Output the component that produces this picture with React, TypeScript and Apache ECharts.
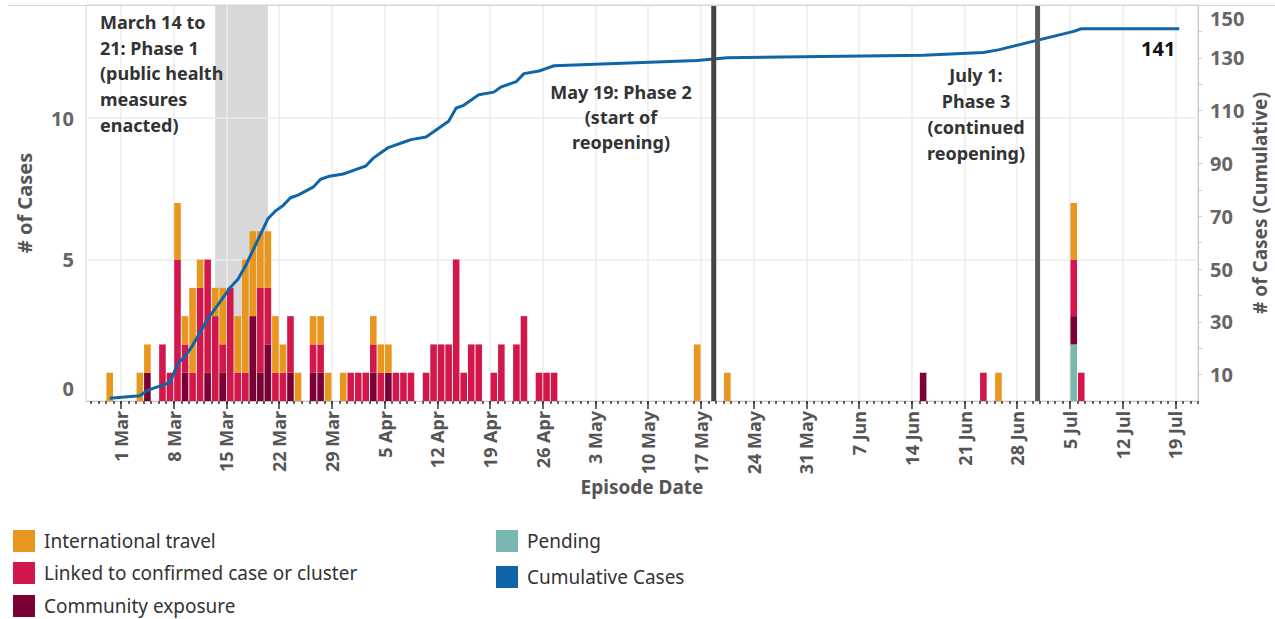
import React, { useEffect, useRef } from 'react';
import * as echarts from 'echarts';

// ---------- data ----------
const caseDates = [
  '2020-02-28', '2020-03-03', '2020-03-04', '2020-03-06', '2020-03-07', '2020-03-08', '2020-03-09', '2020-03-10',
  '2020-03-11', '2020-03-12', '2020-03-13', '2020-03-14', '2020-03-15', '2020-03-16', '2020-03-17', '2020-03-18',
  '2020-03-19', '2020-03-20', '2020-03-21', '2020-03-22', '2020-03-23', '2020-03-24', '2020-03-26', '2020-03-27',
  '2020-03-28', '2020-03-30', '2020-03-31', '2020-04-01', '2020-04-02', '2020-04-03', '2020-04-04', '2020-04-05',
  '2020-04-06', '2020-04-07', '2020-04-08', '2020-04-10', '2020-04-11', '2020-04-12', '2020-04-13', '2020-04-14',
  '2020-04-15', '2020-04-16', '2020-04-17', '2020-04-19', '2020-04-20', '2020-04-22', '2020-04-23', '2020-04-25',
  '2020-04-26', '2020-04-27', '2020-05-16', '2020-05-20', '2020-06-15', '2020-06-23', '2020-06-25', '2020-07-05',
  '2020-07-06',
];
const internationalTravel = [
  1, 1, 1, 0, 0, 2, 1, 3, 1, 0, 1, 2, 0, 2, 4, 3, 2, 2, 2, 1, 0, 1, 1, 1, 1, 1, 0, 0, 0, 1, 1, 1, 0, 0, 0, 0, 0, 0, 0,
  0, 0, 0, 0, 0, 0, 0, 0, 0, 0, 0, 2, 1, 0, 0, 1, 2, 0,
];
const linkedCases = [
  0, 0, 0, 2, 1, 5, 1, 1, 4, 4, 3, 1, 4, 1, 1, 0, 3, 2, 1, 1, 2, 0, 1, 1, 0, 0, 1, 1, 1, 1, 1, 0, 1, 1, 1, 1, 2, 2, 2,
  5, 1, 2, 2, 1, 2, 2, 3, 1, 1, 1, 0, 0, 0, 1, 0, 2, 1,
];
const communityExposure = [
  0, 0, 1, 0, 0, 0, 1, 0, 0, 1, 0, 1, 0, 0, 0, 3, 1, 2, 0, 0, 1, 0, 1, 1, 0, 0, 0, 0, 0, 1, 0, 1, 0, 0, 0, 0, 0, 0, 0,
  0, 0, 0, 0, 0, 0, 0, 0, 0, 0, 0, 0, 0, 1, 0, 0, 1, 0,
];
const pendingCases = [
  0, 0, 0, 0, 0, 0, 0, 0, 0, 0, 0, 0, 0, 0, 0, 0, 0, 0, 0, 0, 0, 0, 0, 0, 0, 0, 0, 0, 0, 0, 0, 0, 0, 0, 0, 0, 0, 0, 0,
  0, 0, 0, 0, 0, 0, 0, 0, 0, 0, 0, 0, 0, 0, 0, 0, 2, 0,
];
const cumulativeDates = [...caseDates, '2020-07-19'];
const cumulativeCases = [
  1, 2, 4, 6, 7, 14, 17, 21, 26, 31, 35, 39, 43, 46, 51, 57, 63, 69, 72, 74, 77, 78, 81, 84, 85, 86, 87, 88, 89, 92,
  94, 96, 97, 98, 99, 100, 102, 104, 106, 111, 112, 114, 116, 117, 119, 121, 124, 125, 126, 127, 129, 130, 131, 132,
  133, 140, 141, 141,
];
const weekTickDates = [
  '2020-03-01', '2020-03-08', '2020-03-15', '2020-03-22', '2020-03-29', '2020-04-05', '2020-04-12', '2020-04-19',
  '2020-04-26', '2020-05-03', '2020-05-10', '2020-05-17', '2020-05-24', '2020-05-31', '2020-06-07', '2020-06-14',
  '2020-06-21', '2020-06-28', '2020-07-05', '2020-07-12', '2020-07-19',
];
const leftTicks = [0, 5, 10];
const rightLabelTicks = [10, 30, 50, 70, 90, 110, 130, 150];
const rightMinorTicks = [10, 20, 30, 40, 50, 60, 70, 80, 90, 100, 110, 120, 130, 140];
const phase1Band = ['2020-03-14', '2020-03-21'];
const phaseLineDates = ['2020-05-19', '2020-07-01'];
const legendNames = [
  'International travel',
  'Linked to confirmed case or cluster',
  'Community exposure',
  'Pending',
  'Cumulative Cases',
];
const phase1Text = 'March 14 to\n21: Phase 1\n(public health\nmeasures\nenacted)';
const phase2Text = 'May 19: Phase 2\n(start of\nreopening)';
const phase3Text = 'July 1:\nPhase 3\n(continued\nreopening)';

// ---------- helpers ----------
const DAY0 = Date.UTC(2020, 2, 1);
const DAY_MS = 86400000;
const MONTHS = ['Jan', 'Feb', 'Mar', 'Apr', 'May', 'Jun', 'Jul', 'Aug', 'Sep', 'Oct', 'Nov', 'Dec'];
const toDay = (s: string) => {
  const [y, m, d] = s.split('-').map(Number);
  return (Date.UTC(y, m - 1, d) - DAY0) / DAY_MS;
};
const dayLabel = (v: number) => {
  const dt = new Date(DAY0 + Math.round(v) * DAY_MS);
  return `${dt.getUTCDate()} ${MONTHS[dt.getUTCMonth()]}`;
};

const X_MIN = -4.65;
const X_MAX = 143.0;
const FONT = '"Noto Sans", "Open Sans", sans-serif';
const COLORS = {
  intl: '#E8961E',
  linked: '#D4174A',
  community: '#7A0036',
  pending: '#79B8B0',
  cumulative: '#0F66A6',
};
// legend placement: [left, top] for each entry in legendNames
const LEGEND_POS = [
  [13, 530],
  [13, 562],
  [13, 595],
  [496, 530],
  [496, 566],
];

export default function App() {
  const ref = useRef<HTMLDivElement>(null);

  useEffect(() => {
    const chart = echarts.init(ref.current!, null, { renderer: 'svg' });

    const weekTicks = weekTickDates.map(toDay);
    const dailyTicks: number[] = [];
    for (let d = Math.ceil(X_MIN); d <= Math.floor(X_MAX); d++) dailyTicks.push(d);

    // data items are [value, dayCenter] so that the value dimension is the stacked one
    const barSeries = (name: string, values: number[], color: string) => ({
      name,
      type: 'bar',
      stack: 'cases',
      xAxisIndex: 0,
      yAxisIndex: 0,
      barWidth: 6.6,
      z: 2,
      itemStyle: { color },
      encode: { x: 1, y: 0 },
      data: caseDates.map((d, i) => [values[i], toDay(d) + 0.5]),
    });

    const lastIdx = cumulativeDates.length - 1;
    const lastX = toDay(cumulativeDates[lastIdx]) + 0.5;
    const lineColors = ['#444444', '#5a5a5a'];

    const axisName = { fontSize: 20, fontWeight: 'bold', color: '#555', fontFamily: FONT };

    const option: any = {
      animation: false,
      backgroundColor: '#ffffff',
      textStyle: { fontFamily: FONT },
      grid: {
        left: 86,
        right: 77,
        top: 5,
        bottom: 218,
        containLabel: false,
        outerBoundsMode: 'none',
        show: true,
        borderColor: '#d4d4d4',
        borderWidth: 1,
      },
      xAxis: [
        {
          type: 'value',
          min: X_MIN,
          max: X_MAX,
          position: 'bottom',
          z: 1,
          name: 'Episode Date',
          nameLocation: 'middle',
          nameGap: 76,
          nameMoveOverlap: false,
          nameTextStyle: { ...axisName, fontSize: 19 },
          axisLine: { show: true, onZero: false, lineStyle: { color: '#c8c8c8', width: 1 } },
          axisTick: { show: true, customValues: weekTicks, length: 8, lineStyle: { color: '#333', width: 1.5 } },
          axisLabel: {
            show: true,
            customValues: weekTicks,
            rotate: 90,
            margin: 10,
            fontSize: 18,
            fontWeight: 'bold',
            color: '#555',
            fontFamily: FONT,
            formatter: (v: number) => dayLabel(v),
          },
          splitLine: { show: true, lineStyle: { color: '#ececec', width: 1.5 } },
        },
        {
          type: 'value',
          min: X_MIN,
          max: X_MAX,
          position: 'bottom',
          z: 1,
          axisLine: { show: false, onZero: false },
          axisLabel: { show: false },
          splitLine: { show: false },
          axisTick: { show: true, customValues: dailyTicks, length: 3, lineStyle: { color: '#333', width: 1.5 } },
        },
      ],
      yAxis: [
        {
          type: 'value',
          min: 0,
          max: 14,
          position: 'left',
          z: 1,
          name: '# of Cases',
          nameLocation: 'middle',
          nameRotate: 90,
          nameGap: 52,
          nameMoveOverlap: false,
          nameTextStyle: axisName,
          axisLine: { show: false, onZero: false },
          axisTick: { show: false, customValues: leftTicks },
          axisLabel: {
            customValues: leftTicks,
            margin: 12,
            fontSize: 20,
            fontWeight: 'bold',
            color: '#666',
            lineHeight: 26,
            fontFamily: FONT,
            formatter: (v: number) => (v === 0 ? '0\n ' : String(v)),
          },
          splitLine: { show: true, lineStyle: { color: '#ececec', width: 1.5 } },
        },
        {
          type: 'value',
          min: 0,
          max: 150,
          position: 'right',
          z: 1,
          name: '# of Cases (Cumulative)',
          nameLocation: 'middle',
          nameRotate: 90,
          nameGap: 52,
          nameMoveOverlap: false,
          nameTextStyle: { ...axisName, fontSize: 19 },
          axisLine: { show: true, onZero: false, lineStyle: { color: '#c8c8c8', width: 1 } },
          axisTick: { show: true, customValues: rightMinorTicks, length: 4, lineStyle: { color: '#cccccc', width: 1 } },
          axisLabel: {
            customValues: rightLabelTicks,
            margin: 12,
            fontSize: 20,
            fontWeight: 'bold',
            color: '#666',
            lineHeight: 26,
            fontFamily: FONT,
            formatter: (v: number) => (v === 150 ? ' \n150' : String(v)),
          },
          splitLine: { show: false },
        },
      ],
      legend: legendNames.map((name, i) => ({
        data: [{ name, icon: 'rect' }],
        orient: 'vertical',
        left: LEGEND_POS[i][0],
        top: LEGEND_POS[i][1],
        itemWidth: 22,
        itemHeight: 22,
        selectedMode: false,
        padding: 0,
        textStyle: { fontSize: 19, color: '#333', fontFamily: FONT, padding: [4, 0, 0, 4] },
      })),
      series: [
        {
          name: 'Phase 1 band',
          type: 'custom',
          xAxisIndex: 0,
          yAxisIndex: 0,
          z: 0.5,
          silent: true,
          encode: { x: [0, 1], y: 2 },
          data: [[toDay(phase1Band[0]) - 0.5, toDay(phase1Band[1]) - 0.5, 0]],
          renderItem: (params: any, api: any) => {
            const a = api.coord([api.value(0), 14]);
            const b = api.coord([api.value(1), 0]);
            return {
              type: 'rect',
              shape: { x: a[0], y: a[1], width: b[0] - a[0], height: b[1] - a[1] },
              style: { fill: '#d8d8d8' },
            };
          },
        },
        barSeries('Pending', pendingCases, COLORS.pending),
        barSeries('Community exposure', communityExposure, COLORS.community),
        barSeries('Linked to confirmed case or cluster', linkedCases, COLORS.linked),
        barSeries('International travel', internationalTravel, COLORS.intl),
        {
          name: 'Cumulative Cases',
          type: 'line',
          xAxisIndex: 0,
          yAxisIndex: 1,
          z: 3,
          showSymbol: false,
          symbol: 'none',
          color: COLORS.cumulative,
          itemStyle: { color: COLORS.cumulative },
          lineStyle: { color: COLORS.cumulative, width: 3 },
          data: cumulativeDates.map((d, i) => [toDay(d) + 0.5, cumulativeCases[i]]),
          markPoint: {
            silent: true,
            symbol: 'circle',
            symbolSize: 1,
            itemStyle: { color: 'rgba(0,0,0,0)' },
            label: {
              show: true,
              position: 'bottom',
              distance: 4,
              offset: [-21, 5],
              fontSize: 20,
              fontWeight: 'bold',
              color: '#111',
              fontFamily: FONT,
              formatter: (p: any) => String(p.value),
            },
            data: [{ coord: [lastX, cumulativeCases[lastIdx]], value: cumulativeCases[lastIdx] }],
          },
        },
        {
          name: 'Phase lines',
          type: 'custom',
          xAxisIndex: 0,
          yAxisIndex: 0,
          z: 5,
          silent: true,
          encode: { x: 0, y: 1 },
          data: phaseLineDates.map((d) => [toDay(d) - 0.3, 0]),
          renderItem: (params: any, api: any) => {
            const top = api.coord([api.value(0), 14]);
            const bottom = api.coord([api.value(0), 0]);
            return {
              type: 'line',
              shape: { x1: top[0], y1: top[1], x2: bottom[0], y2: bottom[1] },
              style: { stroke: lineColors[params.dataIndex], lineWidth: 5 },
            };
          },
        },
      ],
      graphic: [
        {
          type: 'line',
          z: 10,
          shape: { x1: 8, y1: 5.5, x2: 1275, y2: 5.5 },
          style: { stroke: '#d4d4d4', lineWidth: 1 },
        },
        {
          type: 'text',
          z: 10,
          x: 100,
          y: 9,
          style: {
            text: phase1Text,
            fill: '#333',
            fontSize: 18,
            fontWeight: 'bold',
            fontFamily: FONT,
            lineHeight: 25.7,
            align: 'left',
            verticalAlign: 'top',
          },
        },
        {
          type: 'text',
          z: 10,
          x: 621,
          y: 79.5,
          style: {
            text: phase2Text,
            fill: '#333',
            fontSize: 18,
            fontWeight: 'bold',
            fontFamily: FONT,
            lineHeight: 25,
            align: 'center',
            verticalAlign: 'top',
          },
        },
        {
          type: 'text',
          z: 10,
          x: 976,
          y: 62,
          style: {
            text: phase3Text,
            fill: '#333',
            fontSize: 18,
            fontWeight: 'bold',
            fontFamily: FONT,
            lineHeight: 26,
            align: 'center',
            verticalAlign: 'top',
          },
        },
      ],
    };

    chart.setOption(option);
    return () => chart.dispose();
  }, []);

  return (
    <div
      ref={ref}
      style={{ position: 'fixed', left: 0, top: 0, width: 1275, height: 619, background: '#ffffff' }}
    />
  );
}
